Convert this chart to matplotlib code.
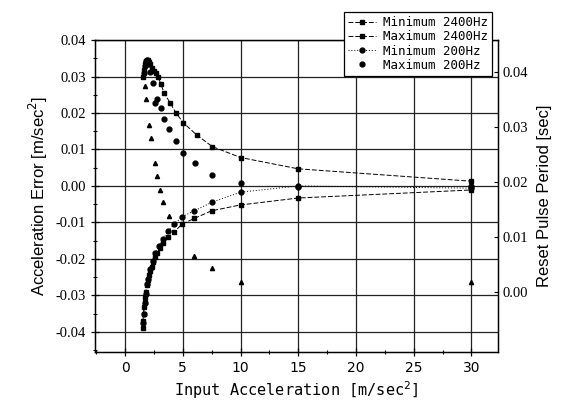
import matplotlib
matplotlib.use('Agg')
import matplotlib.pyplot as plt
from matplotlib.ticker import MultipleLocator

# Maximum 2400Hz (upper, squares, dashed)
x_max2400 = [1.55, 1.6, 1.7, 1.8, 1.9, 2.0, 2.1, 2.2, 2.35, 2.5, 2.65, 2.85, 3.1, 3.4, 3.9, 4.4, 5.05, 6.2, 7.55, 10, 15, 30]
y_max2400 = [0.0300, 0.0318, 0.0333, 0.0342, 0.0346, 0.0345, 0.0340, 0.0333, 0.0322, 0.0316, 0.0309, 0.0300, 0.0279, 0.0254, 0.0228, 0.0201, 0.0173, 0.0140, 0.0108, 0.0078, 0.0047, 0.0013]

# Minimum 2400Hz (lower, squares, dashed)
x_min2400 = [1.52, 1.55, 1.6, 1.65, 1.7, 1.75, 1.8, 1.9, 2.0, 2.1, 2.2, 2.33, 2.45, 2.6, 2.8, 3.04, 3.33, 3.76, 4.27, 4.97, 6.0, 7.5, 10, 15, 30]
y_min2400 = [-0.0390, -0.0370, -0.0350, -0.0332, -0.0318, -0.0303, -0.0290, -0.0272, -0.0258, -0.0245, -0.0232, -0.0221, -0.0208, -0.0195, -0.0183, -0.0171, -0.0155, -0.0140, -0.0125, -0.0104, -0.0089, -0.0068, -0.0052, -0.0033, -0.0011]

# Minimum 200Hz (lower, circles, dotted)
x_min200 = [1.55, 1.6, 1.7, 1.8, 1.9, 2.0, 2.2, 2.4, 2.6, 2.9, 3.3, 3.76, 4.27, 4.97, 6.0, 7.5, 10, 15, 30]
y_min200 = [-0.0375, -0.0350, -0.0320, -0.0295, -0.0270, -0.0255, -0.0228, -0.0205, -0.0185, -0.0165, -0.0145, -0.0123, -0.0104, -0.0084, -0.0068, -0.0045, -0.0017, 0.0000, -0.0006]

# Maximum 200Hz (upper, circles only)
x_max200 = [1.6, 1.7, 1.8, 1.9, 2.0, 2.1, 2.2, 2.4, 2.6, 2.75, 3.1, 3.4, 3.85, 4.4, 5.05, 6.05, 7.55, 10, 15, 30]
y_max200 = [0.0310, 0.0330, 0.0342, 0.0345, 0.0343, 0.0335, 0.0313, 0.0281, 0.0227, 0.0238, 0.0213, 0.0183, 0.0155, 0.0124, 0.0090, 0.0064, 0.0030, 0.0009, -0.0002, 0.0000]

# Reset pulse period (right axis, triangles)
x_reset = [1.75, 1.84, 2.1, 2.27, 2.56, 2.76, 3.04, 3.28, 3.82, 6.0, 7.56, 10, 30]
y_reset = [0.0375, 0.0351, 0.0304, 0.0280, 0.0235, 0.0211, 0.0185, 0.0163, 0.0139, 0.0065, 0.0044, 0.0019, 0.0019]

fig = plt.figure(figsize=(5.7, 4.05), dpi=100)
ax = fig.add_axes([0.1667, 0.1309, 0.7070, 0.7703])
ax2 = ax.twinx()

ax.plot(x_min2400, y_min2400, color='black', ls=(0, (5, 2)), lw=0.7, marker='s', ms=3.2, label='Minimum 2400Hz')
ax.plot(x_max2400, y_max2400, color='black', ls=(0, (5, 2)), lw=0.7, marker='s', ms=3.2, label='Maximum 2400Hz')
ax.plot(x_min200, y_min200, color='black', ls=(0, (1, 2)), lw=0.7, marker='o', ms=3.5, label='Minimum 200Hz')
ax.plot(x_max200, y_max200, color='black', ls='none', marker='o', ms=3.5, label='Maximum 200Hz')
ax2.plot(x_reset, y_reset, color='black', ls='none', marker='^', ms=3)

ax.set_xlim(-2.6, 32.3)
ax.set_ylim(-0.0455, 0.04)
ax2.set_ylim(-0.0109, 0.0458)

ax.xaxis.set_major_locator(MultipleLocator(5))
ax.xaxis.set_minor_locator(MultipleLocator(2.5))
ax.yaxis.set_major_locator(MultipleLocator(0.01))
ax.yaxis.set_minor_locator(MultipleLocator(0.005))
ax2.set_yticks([0.0, 0.01, 0.02, 0.03, 0.04])

ax.grid(True, which='major', color='#222222', lw=0.9)
ax.set_axisbelow(True)
ax.tick_params(which='major', direction='inout', length=6, width=0.9, top=False)
ax.tick_params(which='minor', direction='inout', length=3, width=0.8, top=False)
ax2.tick_params(direction='in', length=3, width=0.8)

ax.set_yticks([-0.04, -0.03, -0.02, -0.01, 0.0, 0.01, 0.02, 0.03, 0.04])
ax.set_yticklabels(['%.2f' % v if abs(v) > 1e-9 else '0.00' for v in ax.get_yticks()])
for lab in ax.get_yticklabels() + ax2.get_yticklabels():
    lab.set_family('Liberation Serif')
    lab.set_fontsize(10.5)
for lab in ax.get_xticklabels():
    lab.set_family('DejaVu Sans')
    lab.set_fontsize(10)
for s in ax.spines.values():
    s.set_linewidth(1.0)

ax.set_xlabel('Input Acceleration [m/sec$^2$]', family='DejaVu Sans Mono', fontsize=11, labelpad=3)
ax.set_ylabel('Acceleration Error [m/sec$^2$]', family='Liberation Sans', fontsize=12, labelpad=4)
ax2.set_ylabel('Reset Pulse Period [sec]', family='Liberation Sans', fontsize=12, labelpad=6)

leg = fig.legend(loc='upper right', bbox_to_anchor=(0.874, 0.985), frameon=True, fancybox=False,
                 edgecolor='black', framealpha=1, prop={'family': 'DejaVu Sans Mono', 'size': 9},
                 handlelength=2.2, labelspacing=0.1, borderpad=0.3, handletextpad=0.6)
leg.get_frame().set_linewidth(0.9)

fig.savefig('out.png', dpi=100)
